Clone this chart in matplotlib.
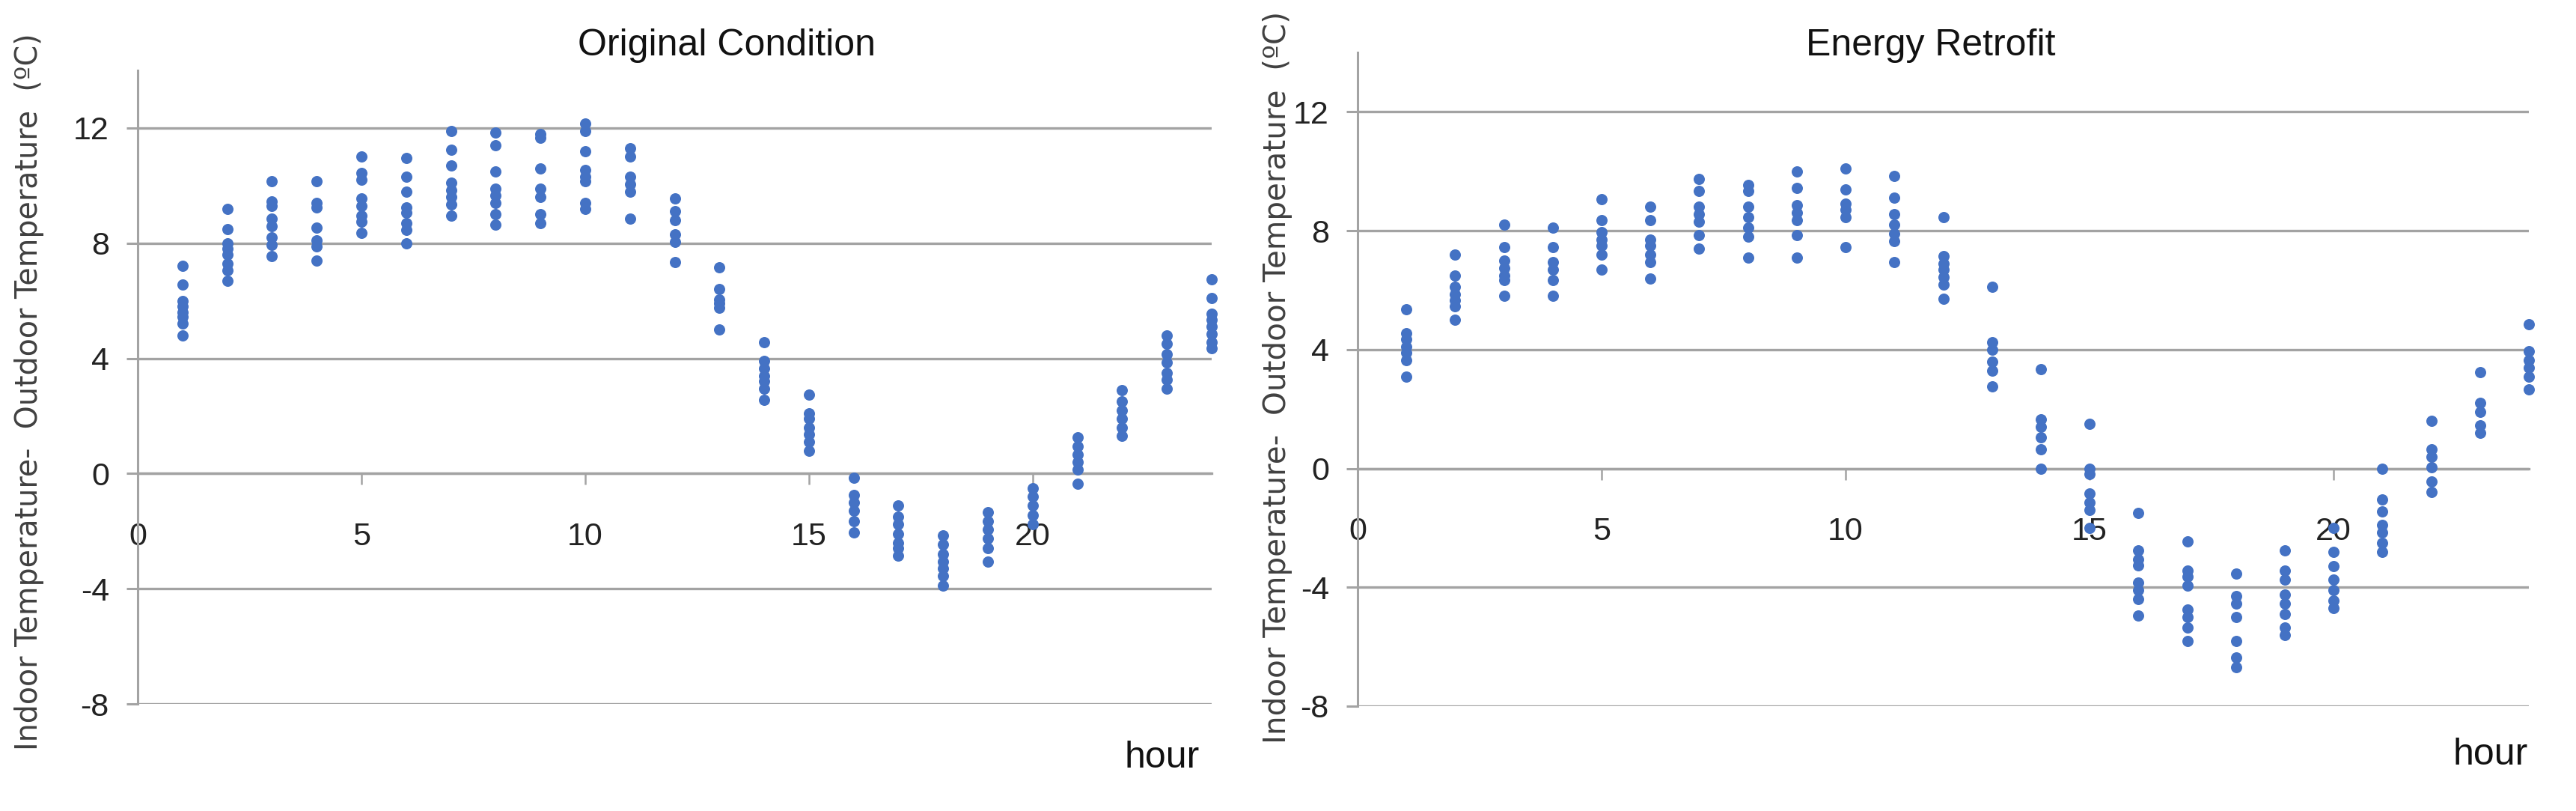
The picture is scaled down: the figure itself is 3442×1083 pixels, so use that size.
import matplotlib
matplotlib.use("Agg")
import matplotlib.pyplot as plt

hours = list(range(1, 25))

original = [
    [7.2, 6.55, 6.0, 5.8, 5.6, 5.45, 5.2, 4.8],
    [9.2, 8.5, 8.0, 7.8, 7.6, 7.3, 7.05, 6.7],
    [10.15, 9.45, 9.3, 8.85, 8.6, 8.2, 7.95, 7.55],
    [10.15, 9.4, 9.25, 8.55, 8.1, 7.9, 7.4],
    [11.0, 10.45, 10.2, 9.55, 9.3, 8.95, 8.75, 8.35],
    [10.95, 10.3, 9.8, 9.25, 9.05, 8.7, 8.45, 8.0],
    [11.9, 11.25, 10.7, 10.1, 9.85, 9.6, 9.35, 8.95],
    [11.85, 11.4, 10.5, 9.9, 9.65, 9.4, 9.0, 8.65],
    [11.8, 11.65, 10.6, 9.9, 9.6, 9.0, 8.7],
    [12.15, 11.9, 11.2, 10.55, 10.3, 10.15, 9.4, 9.2],
    [11.3, 11.0, 10.3, 10.05, 9.8, 8.85],
    [9.55, 9.1, 8.8, 8.3, 8.05, 7.35],
    [7.15, 6.4, 6.05, 5.9, 5.75, 5.0],
    [4.55, 3.9, 3.65, 3.4, 3.2, 2.95, 2.55],
    [2.75, 2.1, 1.9, 1.6, 1.35, 1.1, 0.8],
    [-0.15, -0.75, -1.0, -1.3, -1.65, -2.05],
    [-1.1, -1.5, -1.75, -2.1, -2.4, -2.6, -2.85],
    [-2.15, -2.45, -2.8, -3.05, -3.3, -3.55, -3.9],
    [-1.35, -1.65, -1.95, -2.25, -2.6, -3.05],
    [-0.5, -0.8, -1.1, -1.45, -1.75],
    [1.25, 0.95, 0.65, 0.4, 0.15, -0.35],
    [2.9, 2.5, 2.2, 1.9, 1.6, 1.3],
    [4.8, 4.5, 4.15, 3.85, 3.5, 3.25, 2.95],
    [6.75, 6.1, 5.55, 5.35, 5.1, 4.85, 4.55, 4.35],
]

retrofit = [
    [5.35, 4.55, 4.35, 4.1, 3.9, 3.65, 3.1],
    [7.2, 6.5, 6.1, 5.85, 5.65, 5.45, 5.0],
    [8.2, 7.45, 7.0, 6.75, 6.5, 6.35, 5.8],
    [8.1, 7.45, 6.95, 6.7, 6.35, 5.8],
    [9.05, 8.35, 7.95, 7.7, 7.5, 7.2, 6.7],
    [8.8, 8.35, 7.7, 7.5, 7.2, 6.95, 6.4],
    [9.75, 9.35, 8.8, 8.55, 8.3, 7.85, 7.4],
    [9.55, 9.35, 8.8, 8.45, 8.1, 7.8, 7.1],
    [10.0, 9.45, 8.85, 8.6, 8.35, 7.85, 7.1],
    [10.1, 9.4, 8.9, 8.7, 8.45, 7.45],
    [9.85, 9.1, 8.55, 8.2, 7.9, 7.65, 6.95],
    [8.45, 7.15, 6.9, 6.7, 6.45, 6.2, 5.7],
    [6.1, 4.25, 4.0, 3.6, 3.3, 2.75],
    [3.35, 1.65, 1.4, 1.05, 0.65, 0.0],
    [1.5, 0.0, -0.2, -0.85, -1.15, -1.4, -2.0],
    [-1.5, -2.75, -3.05, -3.25, -3.85, -4.1, -4.4, -4.95],
    [-2.45, -3.45, -3.65, -3.95, -4.75, -5.0, -5.35, -5.8],
    [-3.55, -4.3, -4.55, -5.0, -5.8, -6.35, -6.7],
    [-2.75, -3.45, -3.75, -4.25, -4.55, -4.9, -5.35, -5.6],
    [-2.0, -2.8, -3.3, -3.75, -4.1, -4.45, -4.7],
    [0.0, -1.05, -1.45, -1.9, -2.15, -2.5, -2.8],
    [1.6, 0.65, 0.4, 0.05, -0.45, -0.8],
    [3.25, 2.2, 1.9, 1.45, 1.2],
    [4.85, 3.95, 3.65, 3.4, 3.1, 2.65],
]

titles = ["Original Condition", "Energy Retrofit"]
x_ticks = [0, 5, 10, 15, 20]
y_ticks = [-8, -4, 0, 4, 8, 12]
ylabel_text = "Indoor Temperature-  Outdoor Temperature  (\u00baC)"
xlabel_text = "hour"

W, H = 3442, 1083
fig = plt.figure(figsize=(W / 100, H / 100), dpi=100)
fig.patch.set_facecolor("white")

NARROW = ["Liberation Sans Narrow", "Liberation Sans", "DejaVu Sans"]
GRID = "#a3a3a3"
DOT = "#4472C4"

# pixel boxes: (x0, x24, y_top(14), y_bottom(-8))
boxes = [(184, 1619, 94, 940), (1814, 3379, 70, 943)]
title_pos = [(971, 61), (2580, 61)]
hour_pos = [(1553, 1012), (3328, 1008)]
ylab_x = [39, 1707]
ylab_y = [523, 504]
ylab_size = [28.5, 29.2]

for i, (data, box) in enumerate(zip([original, retrofit], boxes)):
    x0, x1, yt, yb = box
    ax = fig.add_axes([x0 / W, 1 - yb / H, (x1 - x0) / W, (yb - yt) / H])
    ax.set_xlim(0, 24)
    ax.set_ylim(-8, 14)
    ax.set_facecolor("none")
    for yv in y_ticks:
        ax.axhline(yv, color=GRID, lw=2.4, zorder=1)
    xs, ys = [], []
    for h, vals in zip(hours, data):
        xs += [h] * len(vals)
        ys += vals
    ax.plot(xs, ys, linestyle="none", marker="o", ms=10.8, mfc=DOT,
            mec=DOT, mew=0, zorder=3, clip_on=False)
    for s in ["top", "right"]:
        ax.spines[s].set_visible(False)
    ax.spines["left"].set_color(GRID)
    ax.spines["left"].set_linewidth(2.2)
    ax.spines["bottom"].set_position(("data", 0))
    ax.spines["bottom"].set_color(GRID)
    ax.spines["bottom"].set_linewidth(2.4)
    ax.set_xticks(x_ticks)
    ax.set_yticks(y_ticks)
    ax.set_xticklabels([str(t) for t in x_ticks])
    ax.set_yticklabels([str(t) for t in y_ticks])
    ax.tick_params(axis="x", direction="out", length=10.5, width=1.8,
                   color=GRID, pad=36, labelsize=31, labelcolor="#222222")
    ax.tick_params(axis="y", direction="out", length=10.5, width=2.2,
                   color=GRID, pad=17, labelsize=31, labelcolor="#222222")
    for lab in ax.get_xticklabels() + ax.get_yticklabels():
        lab.set_family(NARROW)
    fig.text(title_pos[i][0] / W, 1 - title_pos[i][1] / H, titles[i],
             ha="center", va="center", fontsize=36, family=NARROW,
             color="#111111")
    fig.text(hour_pos[i][0] / W, 1 - hour_pos[i][1] / H, xlabel_text,
             ha="center", va="center", fontsize=36, family=NARROW,
             color="#111111")
    fig.text(ylab_x[i] / W, 1 - ylab_y[i] / H, ylabel_text, rotation=90,
             ha="center", va="center", fontsize=ylab_size[i],
             family=["DejaVu Sans"], color="#404040")

fig.savefig("out.png", dpi=100, facecolor="white")
